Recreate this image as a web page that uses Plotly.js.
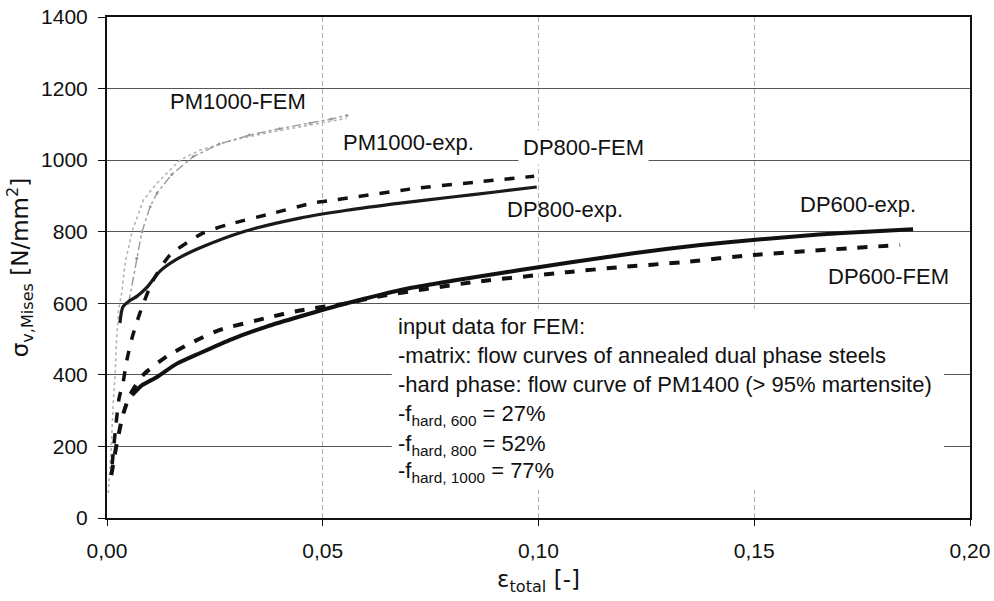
<!DOCTYPE html>
<html>
<head>
<meta charset="utf-8">
<script src="https://cdn.plot.ly/plotly-3.0.1.min.js"></script>
<style>html,body{margin:0;padding:0;background:#fff;}#chart{width:994px;height:601px;}</style>
</head>
<body>
<div id="chart"></div>
<script>
// ---- data ----
const dp600ExpX = [0.0058, 0.0080, 0.0116, 0.0160, 0.0216, 0.0290, 0.0370, 0.0447, 0.0556, 0.0700, 0.0800, 0.0910, 0.0996, 0.1140, 0.1220, 0.1370, 0.1497, 0.1650, 0.1760, 0.1868];
const dp600ExpY = [343, 370, 394, 430, 461, 500, 535, 563, 600, 642, 663, 684, 700, 726, 740, 762, 777, 792, 800, 807];

const dp600FemX = [0.0010, 0.0023, 0.0037, 0.0053, 0.0084, 0.0139, 0.0200, 0.0260, 0.0370, 0.0447, 0.0556, 0.0626, 0.0848, 0.1066, 0.1189, 0.1335, 0.1497, 0.1838];
const dp600FemY = [120, 210, 288, 343, 400, 452, 492, 525, 559, 580, 600, 618, 659, 687, 701, 715, 735, 763];

const dp800ExpX = [0.0030, 0.0037, 0.0050, 0.0070, 0.0093, 0.0123, 0.0160, 0.0216, 0.0316, 0.0447, 0.0556, 0.0680, 0.0800, 0.0900, 0.0996];
const dp800ExpY = [545, 590, 605, 620, 645, 690, 722, 755, 800, 838, 860, 880, 897, 911, 925];

const dp800FemX = [0.0012, 0.0019, 0.0028, 0.0037, 0.0046, 0.0058, 0.0076, 0.0105, 0.0146, 0.0222, 0.0278, 0.0385, 0.0477, 0.0524, 0.0702, 0.0850, 0.0990];
const dp800FemY = [150, 240, 335, 377, 441, 503, 572, 660, 735, 796, 819, 852, 880, 888, 919, 938, 955];

const pmFemX = [0.0003, 0.0010, 0.0014, 0.0019, 0.0022, 0.0027, 0.0035, 0.0042, 0.0058, 0.0084, 0.0116, 0.0169, 0.0216, 0.0292, 0.0370, 0.0470, 0.0556];
const pmFemY = [70, 200, 310, 405, 497, 581, 637, 712, 800, 888, 936, 1000, 1028, 1056, 1076, 1098, 1117];

const pmExpX = [0.0050, 0.0069, 0.0081, 0.0100, 0.0116, 0.0150, 0.0200, 0.0260, 0.0330, 0.0400, 0.0470, 0.0520, 0.0556];
const pmExpY = [600, 726, 800, 870, 908, 960, 1010, 1045, 1070, 1088, 1103, 1115, 1125];

const xTicks = [0, 0.05, 0.10, 0.15, 0.20];
const yTicks = [0, 200, 400, 600, 800, 1000, 1200, 1400];

const curveLabels = ["PM1000-FEM", "PM1000-exp.", "DP800-FEM", "DP800-exp.", "DP600-exp.", "DP600-FEM"];
const curveLabelX = [0.0304, 0.0698, 0.1105, 0.1061, 0.1740, 0.1812];
const curveLabelY = [1165, 1048, 1034, 863, 877, 676];

const noteLines = [
  "input data for FEM:",
  "-matrix: flow curves of annealed dual phase steels",
  "-hard phase: flow curve of PM1400 (> 95% martensite)",
  "-f<sub>hard, 600</sub> = 27%",
  "-f<sub>hard, 800</sub> = 52%",
  "-f<sub>hard, 1000</sub> = 77%"
];
const noteY = [534, 453, 372, 287, 205, 129];
const noteX = 0.067;

// ---- traces ----
const FONT = "Liberation Sans, Arial, sans-serif";
const TFONT = "DejaVu Sans, Liberation Sans, sans-serif";
const traces = [
  {x: pmFemX, y: pmFemY, mode: "lines", line: {color: "#b4b4b4", width: 1.6, dash: "dot"}},
  {x: pmExpX, y: pmExpY, mode: "lines+markers", line: {color: "#9a9a9a", width: 1.4, dash: "dashdot"}, marker: {size: 3, color: "#999"}},
  {x: dp800ExpX, y: dp800ExpY, mode: "lines", line: {color: "#1a1a1a", width: 3.2, shape: "spline", smoothing: 0.8}},
  {x: dp800FemX, y: dp800FemY, mode: "lines", line: {color: "#111", width: 3.5, dash: "10px,11px", shape: "spline", smoothing: 0.6}},
  {x: dp600ExpX, y: dp600ExpY, mode: "lines", line: {color: "#111", width: 4, shape: "spline", smoothing: 0.6}},
  {x: dp600FemX, y: dp600FemY, mode: "lines", line: {color: "#111", width: 4, dash: "10px,11px", shape: "spline", smoothing: 0.6}}
];

const annotations = [];
for (let i = 0; i < curveLabels.length; i++) {
  const a = {x: curveLabelX[i], y: curveLabelY[i], xref: "x", yref: "y", text: curveLabels[i],
    showarrow: false, font: {family: FONT, size: 22, color: "#111"}, xanchor: "center", yanchor: "middle"};
  if (curveLabels[i] === "DP800-FEM") { a.bgcolor = "#fff"; a.borderpad = 4; }
  annotations.push(a);
}
for (let i = 0; i < noteLines.length; i++) {
  annotations.push({x: noteX, y: noteY[i], xref: "x", yref: "y", text: noteLines[i], showarrow: false,
    font: {family: FONT, size: 22, color: "#111"}, xanchor: "left", yanchor: "middle", align: "left"});
}

const layout = {
  width: 994, height: 601,
  margin: {l: 107, r: 24, t: 17, b: 83},
  paper_bgcolor: "#fff", plot_bgcolor: "#fff",
  showlegend: false,
  separators: ",.",
  font: {family: FONT, size: 21, color: "#111"},
  xaxis: {
    range: [0, 0.2], tickvals: xTicks, tickformat: ".2f",
    showgrid: true, gridcolor: "#b0b0b0", gridwidth: 1, griddash: "5px,3px",
    showline: true, linecolor: "#111", linewidth: 2, mirror: true,
    ticks: "outside", ticklen: 6, tickcolor: "#111", tickwidth: 1,
    ticklabelstandoff: 7,
    zeroline: false,
    tickfont: {family: FONT, size: 21, color: "#111"},
    title: {text: "ε<sub>total</sub> [-]", font: {family: TFONT, size: 23, color: "#111"}, standoff: 10}
  },
  yaxis: {
    range: [0, 1400], tickvals: yTicks,
    showgrid: true, gridcolor: "#555", gridwidth: 1,
    showline: true, linecolor: "#111", linewidth: 2, mirror: true,
    ticks: "outside", ticklen: 7, tickcolor: "#111", tickwidth: 1,
    ticklabelstandoff: 6,
    zeroline: false,
    tickfont: {family: FONT, size: 21, color: "#111"},
    title: {text: "σ<sub>v,Mises</sub> [N/mm<sup>2</sup>]", font: {family: TFONT, size: 23, color: "#111"}, standoff: 6}
  },
  shapes: [
    {type: "rect", xref: "x", yref: "y", x0: 0.066, x1: 0.194, y0: 78, y1: 585,
     fillcolor: "#fff", line: {width: 0}, layer: "between"}
  ],
  annotations: annotations
};

Plotly.newPlot("chart", traces, layout, {staticPlot: true, displayModeBar: false});
</script>
</body>
</html>
